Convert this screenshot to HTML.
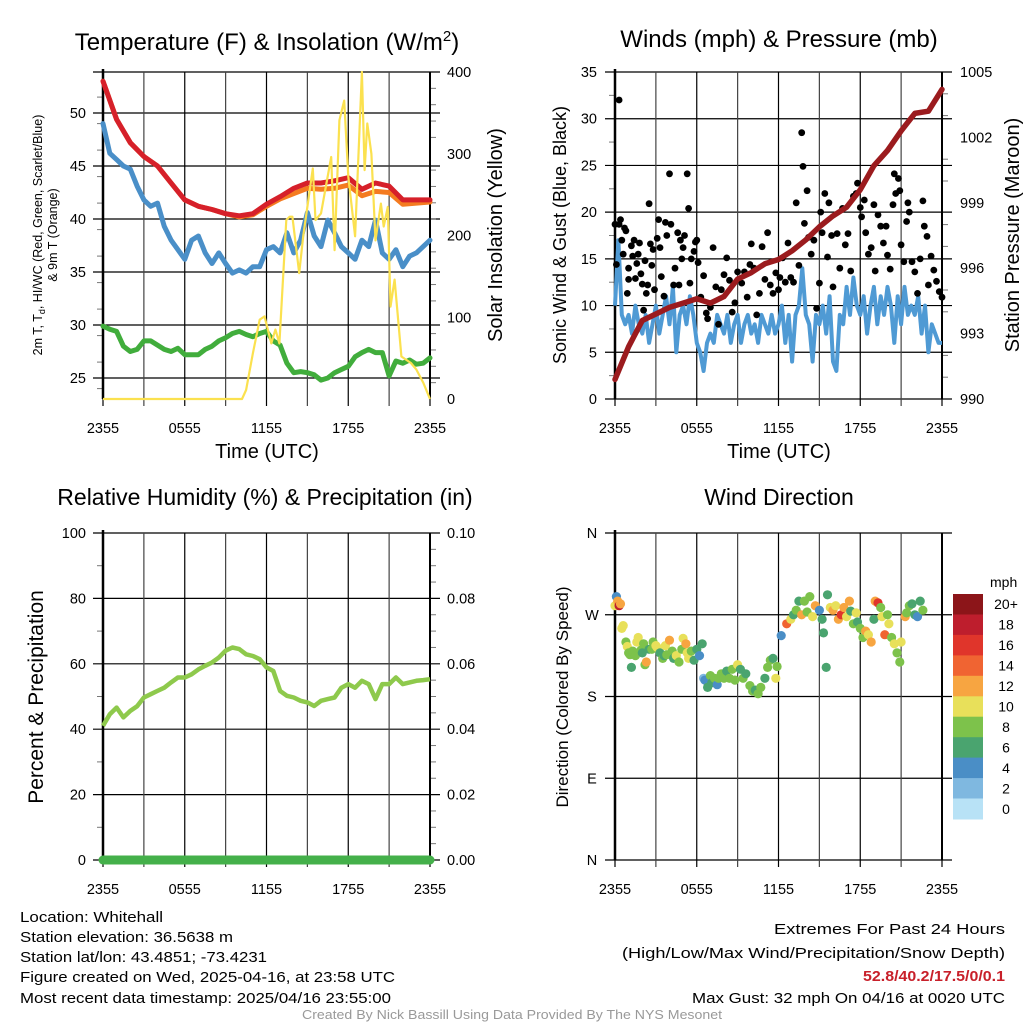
<!DOCTYPE html>
<html><head><meta charset="utf-8"><style>
html,body{margin:0;padding:0;background:#fff;}
svg{display:block;font-family:"Liberation Sans",sans-serif;}
</style></head><body>
<svg id="fig" width="1024" height="1024" viewBox="0 0 1024 1024" xmlns="http://www.w3.org/2000/svg">
<rect width="1024" height="1024" fill="#fff"/>
<g id="p1"></g>
<g id="p2"></g>
<g id="p3"></g>
<g id="p4"></g>
<g font-size="15" fill="#000">
<text x="20" y="922" textLength="143" lengthAdjust="spacingAndGlyphs">Location: Whitehall</text>
<text x="20" y="942" textLength="213" lengthAdjust="spacingAndGlyphs">Station elevation: 36.5638 m</text>
<text x="20" y="962" textLength="247" lengthAdjust="spacingAndGlyphs">Station lat/lon: 43.4851; -73.4231</text>
<text x="20" y="982" textLength="375" lengthAdjust="spacingAndGlyphs">Figure created on Wed, 2025-04-16, at 23:58 UTC</text>
<text x="20" y="1003" textLength="371" lengthAdjust="spacingAndGlyphs">Most recent data timestamp: 2025/04/16 23:55:00</text>
</g>
<g font-size="15" fill="#000">
<text x="774" y="934" textLength="231" lengthAdjust="spacingAndGlyphs">Extremes For Past 24 Hours</text>
<text x="622" y="958" textLength="383" lengthAdjust="spacingAndGlyphs">(High/Low/Max Wind/Precipitation/Snow Depth)</text>
<text x="863" y="981" textLength="142" lengthAdjust="spacingAndGlyphs" fill="#c8202a" font-weight="bold">52.8/40.2/17.5/0/0.1</text>
<text x="692" y="1003" textLength="313" lengthAdjust="spacingAndGlyphs">Max Gust: 32 mph On 04/16 at 0020 UTC</text>
</g>
<text x="302" y="1019" textLength="420" lengthAdjust="spacingAndGlyphs" font-size="13" fill="#999">Created By Nick Bassill Using Data Provided By The NYS Mesonet</text>
</svg>
<script>
// ---- data ----
var hours = [0,1,2,3,4,5,6,7,8,9,10,11,12,13,14,15,16,17,18,19,20,21,22,23,24];
var tempRed = [53,49.4,47.2,45.9,45,43.4,41.8,41.2,40.9,40.5,40.3,40.5,41.4,42.1,42.9,43.4,43.4,43.6,43.9,42.8,43.4,43.1,41.8,41.8,41.8];
var temp9m = [53,49.4,47.2,45.9,45,43.4,41.8,41.2,40.9,40.5,40.2,40.4,41.2,41.9,42.4,42.9,42.8,42.9,43.2,42.2,42.6,42.5,41.4,41.5,41.6];
var halfHours = [0,0.5,1,1.5,2,2.5,3,3.5,4,4.5,5,5.5,6,6.5,7,7.5,8,8.5,9,9.5,10,10.5,11,11.5,12,12.5,13,13.5,14,14.5,15,15.5,16,16.5,17,17.5,18,18.5,19,19.5,20,20.5,21,21.5,22,22.5,23,23.5,24];
var dewBlue = [49,46.2,45.6,45,44.7,43.1,41.8,41.2,41.5,39.3,38,37.1,36.2,38,38.4,36.8,35.8,36.8,35.8,34.9,35.2,34.9,35.5,35.5,37.1,37.4,36.8,38.7,36.8,38,40.6,38.4,37.4,39.9,38.7,37.4,36.8,36.2,38,37.4,39.9,36.8,36.2,37.1,35.5,36.5,36.8,37.4,38];
var hiwcGreen = [29.9,29.6,29.4,28,27.5,27.7,28.5,28.5,28.1,27.7,27.5,27.8,27.2,27.2,27.2,27.7,28,28.5,28.8,29.2,29.4,29.1,28.9,29.2,29.4,28.5,28.1,26.4,25.5,25.6,25.5,25.3,24.8,25,25.5,25.8,26.1,27,27.4,27.7,27.4,27.4,25.2,26.6,26.4,26.7,26.3,26.4,26.9];
var solarT = [0,10.2,10.5,11,11.5,11.85,12.35,12.65,12.95,13.45,13.7,13.9,14.4,14.7,15.4,15.6,16,16.75,17,17.35,17.7,18,18.5,19,19.2,19.4,19.7,20,20.4,20.6,20.9,21.1,21.4,21.9,22.6,23,23.5,24];
var solarV = [0,0,11,56,97,101,68,85,68,219,223,223,154,200,282,219,227,296,182,341,365,272,199,400,280,337,300,194,239,211,235,113,146,52,44,36,20,0];
var windSpeed = [10,17,9,8, 9,7,10,8, 7,9,6,8, 10,7,9,11, 8,12,5,9, 10,8,11,9, 6,5,3,6, 7,6,9,8, 7,9,6,8, 9,6,8,9, 7,8,6,9, 8,7,9,7, 8,10,6,9, 4,9,10,14, 9,8,4,9, 8,10,7,11, 4,3,9,8, 12,9,13,10, 9,11,7,10, 12,8,11,9, 12,10,6,11, 8,12,9,10, 9,11,7,10, 5,8,7,6, 6];
var windHours = [];
for (var wi=0; wi<windSpeed.length; wi++) windHours.push(wi*0.25);
var pressure = [990.9,992.4,993.6,993.9,994.2,994.4,994.6,994.4,994.7,995.5,995.8,996.2,996.4,996.8,997.3,997.9,998.4,998.8,999.6,1000.7,1001.4,1002.3,1003.1,1003.2,1004.2];
var gustT = [0,0.1,0.3,0.3,0.4,0.5,0.6,0.7,0.8,0.9,1,1,1.2,1.3,1.4,1.5,1.6,1.7,1.8,1.9,2,2.1,2.2,2.3,2.4,2.5,2.6,2.7,2.8,2.9,3.1,3.2,3.3,3.4,3.6,3.7,3.8,4,4.1,4.3,4.4,4.6,4.7,4.8,4.9,5,5.1,5.3,5.4,5.5,5.6,5.8,5.9,6,6.1,6.3,6.5,6.7,6.8,7,7.2,7.4,7.6,7.8,8,8.2,8.4,8.6,8.8,9,9.3,9.5,9.7,9.9,10,10.2,10.4,10.6,10.8,11,11.2,11.4,11.6,11.8,12,12.1,12.3,12.5,12.7,12.9,13.1,13.3,13.5,13.7,13.8,13.9,14.1,14.2,14.4,14.6,14.8,15,15.1,15.2,15.4,15.6,15.7,15.9,16,16.3,16.5,16.7,16.9,17.1,17.3,17.5,17.7,17.8,18,18.1,18.3,18.4,18.6,18.8,19,19.1,19.3,19.5,19.7,19.9,20,20.2,20.4,20.5,20.6,20.8,20.9,21,21.2,21.4,21.5,21.6,21.8,22,22.2,22.4,22.6,22.7,22.9,23,23.2,23.4,23.6,23.8,24];
var gustV = [18.7,14.4,32,18.7,19.2,17,15.5,18.3,18,11.3,12.8,14,16.4,15.3,17,12.9,14.5,15.5,16.7,13.4,12.3,9.5,14.8,11.3,12.2,20.9,16.6,14.3,16,11.7,17.2,19.2,16.2,13.1,11,18.9,17.5,24.1,18.7,12.2,14,17.8,12.2,17,15,16.2,17.5,24.1,20.4,12.4,15,15.8,16.8,17,14.6,10.9,13.2,9.2,8.6,9.8,16.2,12,8,11.7,13.3,15.1,12.7,9.3,10.3,13.6,12.4,13.6,10.9,14.4,16.6,14,9,11.3,16.3,12.8,17.8,12.2,11.3,13.5,11.7,13,15.1,12.5,16.7,13,12.5,21,14.3,28.5,24.9,18.8,22.3,17.3,15.5,17,9.7,12.4,20,17.8,22,15.2,21,17.5,12,17.7,14,20.4,16.5,17.7,13.7,21.7,22,23.1,20.5,19.5,21.3,17.8,15.5,16.2,20.8,13.7,19.7,18.5,16.7,18.5,15.4,13.9,20.8,24.1,22,23.6,22.3,16.5,14.7,19,21,20,14.7,13.6,11.3,15,21.2,18.5,17.4,12.2,15.3,13.8,12.6,11.5,10.9];
var rhValues = [41,44.6,46.6,43.6,45.6,47,49.7,50.7,51.7,52.7,54.3,55.8,55.8,56.8,58.3,59.4,60.4,61.9,64,65,64.5,62.9,62.4,61.4,58.9,57.8,51.7,50.2,49.7,48.7,48.2,47.1,48.7,49.2,49.7,52.7,53.8,52.7,54.8,53.8,49.2,53.8,53.8,55.8,53.8,54.3,54.8,55,55.3];
var precipValues = [0,0];
var precipT = [0,24];
var dirT = [0,0.1,0.2,0.3,0.4,0.5,0.6,0.8,0.9,1,1.1,1.2,1.3,1.5,1.6,1.7,1.9,2,2.1,2.2,2.3,2.5,2.7,2.8,3,3.1,3.3,3.5,3.6,3.7,3.8,4,4.2,4.3,4.5,4.7,4.9,5,5.2,5.3,5.4,5.6,5.8,6,6.2,6.4,6.5,6.6,6.8,7,7.1,7.3,7.5,7.6,7.8,8,8.2,8.4,8.6,8.8,9,9.2,9.4,9.6,9.9,10.1,10.3,10.5,10.7,11,11.2,11.4,11.6,11.8,11.9,12.2,12.6,12.9,13.1,13.3,13.5,13.7,13.9,14.1,14.3,14.5,14.7,15,15.2,15.3,15.5,15.6,15.8,16,16.2,16.4,16.6,16.8,17,17.2,17.3,17.5,17.7,17.8,18,18.2,18.4,18.6,18.8,19,19.1,19.3,19.5,19.6,19.8,20,20.1,20.3,20.5,20.7,20.9,21,21.3,21.4,21.6,21.8,22,22.2,22.4,22.6];
var dirDeg = [280,290,285,280,282,255,258,240,235,228,226,212,230,225,240,245,231,228,238,215,218,232,232,240,236,234,228,222,225,236,226,242,230,222,225,218,232,244,238,228,222,230,220,232,225,238,200,198,190,203,195,200,193,200,205,200,208,200,210,198,215,210,200,205,192,186,187,183,190,200,212,220,222,200,213,247,260,265,270,275,285,270,285,273,290,268,280,275,265,250,212,292,278,275,280,265,270,278,268,285,274,260,272,262,255,245,252,248,240,265,285,283,278,268,248,270,260,245,238,228,218,240,268,272,280,282,270,268,285,275];
var dirSpd = [10,4,12,18,12,10,10,8,10,8,8,6,8,8,10,10,8,6,8,8,12,6,8,8,10,10,6,8,6,10,8,12,8,6,10,8,8,10,12,10,10,8,6,6,4,6,2,4,6,8,6,8,4,8,8,8,6,8,8,8,10,6,8,6,8,8,6,8,8,6,8,8,6,10,8,4,14,10,6,8,6,12,8,8,8,10,12,4,6,6,6,6,10,12,10,12,16,12,10,12,6,8,10,6,8,8,12,10,12,6,12,16,8,10,14,8,10,8,10,8,8,10,12,8,8,6,6,4,6,8];
var speedBins = [0,2,4,6,8,10,12,14,16,18,20];
var binLabels = ['0','2','4','6','8','10','12','14','16','18','20+'];
var binColors = ['#b8e2f6','#7fb8e0','#4a8ec6','#4aa46f','#7dc24b','#e8e05a','#f7a541','#f06432','#e0352b','#be1e2d','#8c1519'];
var xTickLabels = ['2355','0555','1155','1755','2355'];
var xTickHours = [0,6,12,18,24];

// ---- helpers ----
var NS = 'http://www.w3.org/2000/svg';
function mk(parent, tag, attrs, txt){var e=document.createElementNS(NS,tag);for(var k in attrs)e.setAttribute(k,attrs[k]);if(txt!==undefined)e.textContent=txt;parent.appendChild(e);return e;}
function pathD(xs, ys, fx, fy){var d='';for(var i=0;i<xs.length;i++){d+=(i?'L':'M')+fx(xs[i]).toFixed(1)+','+fy(ys[i]).toFixed(1);}return d;}

function frame(g, L, R, T, B, xf){
  for (var h=0; h<=24; h+=3){
    var v = mk(g,'line',{x1:xf(h),x2:xf(h),y1:T,y2:B+7,stroke:(h%6===3?'#444':'#000'),'stroke-width':1.2});
    
    
  }
  for (var i=0;i<xTickHours.length;i++){
    var t = mk(g,'text',{x:xf(xTickHours[i]),y:B+34,'font-size':14.5,'text-anchor':'middle'},xTickLabels[i]);
    
    
  }
  var ax = mk(g,'line',{x1:L,x2:L,y1:T-3,y2:B,stroke:'#000','stroke-width':2.5});
  
  
  var ar = mk(g,'line',{x1:R,x2:R,y1:T,y2:B,stroke:'#000','stroke-width':2});
  
  
}
function hgrid(g, L, R, y, label, lx, anchor, cls){
  var l = mk(g,'line',{x1:L-10,x2:R+10,y1:y,y2:y,stroke:'#000','stroke-width':1.2});
  
  
  if (label!==null){
    var t = mk(g,'text',{x:lx,y:y+5,'font-size':14.5,'text-anchor':anchor},label);
    
    
  }
}
function rlabel(g, x, y, label, cls){
  var t = mk(g,'text',{x:x,y:y+5,'font-size':14.5},label);
  
  
}
function minor(g, x1, x2, y){
  var m = mk(g,'line',{x1:x1,x2:x2,y1:y,y2:y,stroke:'#777','stroke-width':1});
  
  
}
function title(g,x,y,txt,size){var t=mk(g,'text',{x:x,y:y,'font-size':size,'text-anchor':'middle'},txt);return t;}
function vtitle(g,x,y,txt,size){var t=mk(g,'text',{x:0,y:0,'font-size':size,'text-anchor':'middle',transform:'translate('+x+','+y+') rotate(-90)'},txt);return t;}

// ---- Panel 1 ----
(function(){
  var g=document.getElementById('p1');
  var L=103,R=430,T=72,B=399;
  var x=function(h){return L+h*(R-L)/24;};
  var yT=function(v){return 378-(v-25)*53/5;};
  var yS=function(w){return B-w*(B-T)/400;};
  var tt = title(g,267,50,'',24);
  tt.innerHTML='Temperature (F) &amp; Insolation (W/m<tspan dy="-9" font-size="15">2</tspan><tspan dy="9">)</tspan>';
  
  
  for (var v=25; v<=50; v+=5) hgrid(g,L,R,yT(v),String(v),86,'end','temp-axis');
  hgrid(g,L,R,T,null,0,'end','top');
  for (var w=0; w<=400; w+=100) rlabel(g,447,yS(w),String(w),'solar-axis');
  for (var w2=20; w2<400; w2+=20) if (w2%100) minor(g,R,R+6,yS(w2));
  for (var m=24; m<53; m+=2.5) if (m%5) minor(g,L-6,L,yT(m));
  frame(g,L,R,T,B,x);
  var pairs=[[hours,temp9m,'#f47b20','nine-meter-temp-line'],[hours,tempRed,'#d6202a','temperature-line'],[halfHours,dewBlue,'#4a8fc8','dewpoint-line'],[halfHours,hiwcGreen,'#41ad3c','heat-index-windchill-line']];
  for (var i=0;i<pairs.length;i++){
    var p=mk(g,'path',{d:pathD(pairs[i][0],pairs[i][1],x,yT),fill:'none',stroke:pairs[i][2],'stroke-width':5,'stroke-linejoin':'round','stroke-linecap':'round'});
    
    
  }
  var s=mk(g,'path',{d:pathD(solarT,solarV,x,yS),fill:'none',stroke:'#fbe14f','stroke-width':2.2,'stroke-linejoin':'round'});
  
  
  var xt=title(g,267,458,'Time (UTC)',20);
  
  
  var y1=vtitle(g,42,235,'',12.5);
  y1.innerHTML='2m T, T<tspan dy="3" font-size="9">d</tspan><tspan dy="-3">, HI/WC (Red, Green, Scarlet/Blue)</tspan>';
  
  
  var y2=vtitle(g,57,235,'& 9m T (Orange)',12.5);
  
  
  var y3=vtitle(g,502,235,'Solar Insolation (Yellow)',20);
  
  
})();

// ---- Panel 2 ----
(function(){
  var g=document.getElementById('p2');
  var L=615,R=942,T=72,B=399;
  var x=function(h){return L+h*(R-L)/24;};
  var yW=function(v){return B-v*(B-T)/35;};
  var yP=function(p){return B-(p-990)*(B-T)/15;};
  var tt=title(g,779,47,'Winds (mph) & Pressure (mb)',24);
  
  
  for (var v=0; v<=35; v+=5) hgrid(g,L,R,yW(v),String(v),597,'end','wind-axis');
  for (var p=990; p<=1005; p+=3) rlabel(g,960,yP(p),String(p),'pressure-axis');
  for (var p2=991; p2<1005; p2++) if ((p2-990)%3) minor(g,R,R+6,yP(p2));
  for (var m=2.5; m<35; m+=5) minor(g,L-6,L,yW(m));
  frame(g,L,R,T,B,x);
  var ws=mk(g,'path',{d:pathD(windHours,windSpeed,x,yW),fill:'none',stroke:'#4f9ad4','stroke-width':4,'stroke-linejoin':'round'});
  
  
  for (var i=0;i<gustT.length;i++){
    var c=mk(g,'circle',{cx:x(gustT[i]).toFixed(1),cy:yW(gustV[i]).toFixed(1),r:3.4,fill:'#000'});
    
    
  }
  var pr=mk(g,'path',{d:pathD(hours,pressure,x,yP),fill:'none',stroke:'#9b1b1e','stroke-width':5.5,'stroke-linejoin':'round','stroke-linecap':'round'});
  
  
  var xt=title(g,779,458,'Time (UTC)',20);
  
  
  var y1=vtitle(g,566,235,'Sonic Wind & Gust (Blue, Black)',18);
  
  
  var y2=vtitle(g,1019,235,'Station Pressure (Maroon)',20);
  
  
})();

// ---- Panel 3 ----
(function(){
  var g=document.getElementById('p3');
  var L=103,R=430,T=533,B=860;
  var x=function(h){return L+h*(R-L)/24;};
  var yR=function(v){return B-v*(B-T)/100;};
  var yPr=function(v){return B-v*(B-T)/0.1;};
  var tt=title(g,265,505,'Relative Humidity (%) & Precipitation (in)',23);
  
  
  for (var v=0; v<=100; v+=20) hgrid(g,L,R,yR(v),String(v),86,'end','rh-axis');
  for (var q=0; q<=5; q++) rlabel(g,447,yR(q*20),(q*0.02).toFixed(2),'precip-axis');
  for (var m=10; m<100; m+=10) if (m%20) minor(g,L-6,L,yR(m));
  for (var m2=5; m2<100; m2+=5) if (m2%20) minor(g,R,R+6,yR(m2));
  frame(g,L,R,T,B,x);
  var rh=mk(g,'path',{d:pathD(halfHours,rhValues,x,yR),fill:'none',stroke:'#8ec94c','stroke-width':4.5,'stroke-linejoin':'round'});
  
  
  var pc=mk(g,'path',{d:pathD(precipT,precipValues,x,yPr),fill:'none',stroke:'#44b04a','stroke-width':9,'stroke-linecap':'round'});
  
  
  var y1=vtitle(g,43,697,'Percent & Precipitation',21);
  
  
})();

// ---- Panel 4 ----
(function(){
  var g=document.getElementById('p4');
  var L=615,R=942,T=533,B=860;
  var x=function(h){return L+h*(R-L)/24;};
  var yD=function(d){return B-d*(B-T)/360;};
  var tt=title(g,779,505,'Wind Direction',23);
  
  
  var dl=['N','E','S','W','N'];
  for (var i=0;i<5;i++) hgrid(g,L,R,yD(i*90),dl[i],592,'middle','direction-axis');
  frame(g,L,R,T,B,x);
  function colorFor(s){var k=0;for(var j=0;j<speedBins.length;j++){if(s>=speedBins[j])k=j;}return binColors[k];}
  for (var i2=0;i2<dirT.length;i2++){
    var c=mk(g,'circle',{cx:x(dirT[i2]).toFixed(1),cy:yD(dirDeg[i2]).toFixed(1),r:4.6,fill:colorFor(dirSpd[i2])});
    
    
  }
  var y1=vtitle(g,568,697,'Direction (Colored By Speed)',17);
  
  
  var unit=mk(g,'text',{x:990,y:587,'font-size':14},'mph');
  
  
  var bh=(819-594)/binColors.length;
  for (var b=0;b<binColors.length;b++){
    var idx=binColors.length-1-b;
    var r=mk(g,'rect',{x:953,y:(594+b*bh).toFixed(1),width:30,height:(bh+0.5).toFixed(1),fill:binColors[idx]});
    
    
    var t=mk(g,'text',{x:1006,y:(594+b*bh+bh/2+5).toFixed(1),'font-size':14,'text-anchor':'middle'},binLabels[idx]);
    
    
  }
})();
</script>
</body></html>
